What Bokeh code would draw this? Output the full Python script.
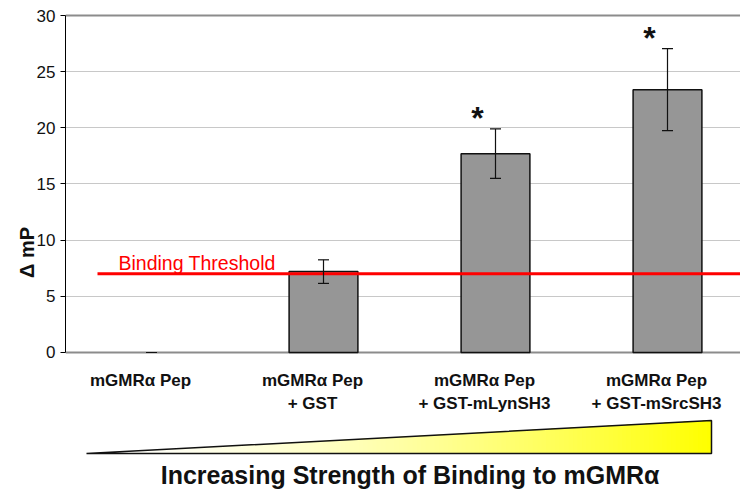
import math
from bokeh.plotting import figure
from bokeh.models import (ColumnDataSource, Range1d, FixedTicker, Grid, Whisker,
                          TeeHead)
from bokeh.core.properties import value
from bokeh.embed import file_html
from bokeh.resources import INLINE

# ---------------- data ----------------
categories = ["mGMR\u03b1 Pep",
              "mGMR\u03b1 Pep\n+ GST",
              "mGMR\u03b1 Pep\n+ GST-mLynSH3",
              "mGMR\u03b1 Pep\n+ GST-mSrcSH3"]
delta_mp = [0.0, 7.2, 17.7, 23.4]
delta_err = [0.0, 1.05, 2.2, 3.65]
significant = [False, False, True, True]
threshold = 7.0
y_ticks = [0, 5, 10, 15, 20, 25, 30]
y_label = "\u0394 mP"
threshold_label = "Binding Threshold"
x_title = "Increasing  Strength of Binding to mGMR\u03b1"

# ---------------- layout ----------------
FONT = "Liberation Sans"
W, H = 740, 491
PX_PER_CAT = 172.0
PX_PER_UNIT = 11.233
FRAME_LEFT = 65
FRAME_TOP = 13
Y30_PX = 15


def fx(px):
    return -0.5 + (px - FRAME_LEFT) / PX_PER_CAT


def fy(py):
    return 30 - (py - Y30_PX) / PX_PER_UNIT


x_start = -0.5
x_end = fx(W)
y_top = fy(FRAME_TOP)
y_bottom = fy(H)

p = figure(width=W, height=H, output_backend="svg", toolbar_location=None,
           x_range=Range1d(x_start, x_end), y_range=Range1d(y_bottom, y_top),
           x_axis_location=None, min_border_left=FRAME_LEFT,
           min_border_top=FRAME_TOP, min_border_bottom=0,
           min_border_right=0, background_fill_color="white",
           border_fill_color="white", outline_line_color=None)

for g in p.grid:
    if g.dimension == 0:
        g.visible = False

# y axis
yax = p.yaxis[0]
yax.bounds = (0, 30)
yax.ticker = FixedTicker(ticks=y_ticks)
yax.major_tick_out = 5
yax.major_tick_in = 0
yax.minor_tick_out = 0
yax.minor_tick_in = 0
yax.axis_line_color = "black"
yax.axis_line_width = 1
yax.major_tick_line_color = "black"
yax.major_label_text_font = FONT
yax.major_label_text_font_size = "17px"
yax.major_label_text_color = "#111111"
yax.major_label_standoff = 5
yax.axis_label = y_label
yax.axis_label_text_font = FONT
yax.axis_label_text_font_style = "bold"
yax.axis_label_text_font_size = "20px"
yax.axis_label_text_color = "#111111"
yax.axis_label_standoff = -4

# grid
ygrid = [g for g in p.grid if g.dimension == 1][0]
ygrid.ticker = FixedTicker(ticks=[t for t in y_ticks if 0 < t < 30])
ygrid.grid_line_color = "#c8c8c8"
ygrid.grid_line_width = 1
p.add_layout(Grid(dimension=1, ticker=FixedTicker(ticks=[y_ticks[0], y_ticks[-1]]),
                  grid_line_color="#8c8c8c", grid_line_width=2))

# bars
idx = list(range(len(categories)))
src = ColumnDataSource(dict(
    x=idx, top=delta_mp,
    upper=[v + e for v, e in zip(delta_mp, delta_err)],
    lower=[v - e for v, e in zip(delta_mp, delta_err)],
    edge=[0.0 if v == 0 else 1.0 for v in delta_mp],
    star=["*" if s else "" for s in significant],
    label=categories,
))
p.vbar(x="x", top="top", bottom=0, width=0.40, source=src,
       fill_color="#969696", line_color="#111111", line_width=1.5,
       line_alpha="edge")

# threshold line
p.line(x=[fx(97), x_end], y=[threshold, threshold], line_color="#ff0000",
       line_width=3)
p.text(x=[fx(118)], y=[threshold], text=[threshold_label], text_color="#ff0000",
       text_font=value(FONT), text_font_size="19.5px", text_baseline="alphabetic",
       text_align="left", y_offset=-11)

# error bars
p.add_layout(Whisker(base="x", upper="upper", lower="lower", source=src,
                     level="overlay",
                     line_color="#111111", line_width=1.2,
                     upper_head=TeeHead(size=11, line_color="#111111", line_width=1.2),
                     lower_head=TeeHead(size=11, line_color="#111111", line_width=1.2)))

# significance stars
p.text(x="x", y="upper", text="star", source=src, text_font=value(FONT),
       text_font_style="bold", text_font_size="32px", text_align="center",
       text_baseline="alphabetic", x_offset=-18, y_offset=-11, text_color="#111111")

# category labels
p.text(x="x", y=0, text="label", source=src, text_font=value(FONT),
       text_font_style="bold", text_font_size="17px", text_align="center",
       text_baseline="top", x_offset=-11, y_offset=19, text_color="#111111",
       text_line_height=1.2)

# gradient wedge
xl, xr = fx(86), fx(711)
yb, ytr = fy(453), fy(420)
N = 140
for i in range(N):
    t = i / (N - 1)
    xi = xl + (xr - xl) * i / N
    yi = yb + (ytr - yb) * (xi - xl) / (xr - xl)
    b = int(round(255 * (1 - t ** 1.5)))
    p.patch(x=[xi, xr, xr, xi], y=[yb, yb, ytr, yi],
            fill_color="#ffff%02x" % b, line_color=None)
p.patch(x=[xl, xr, xr], y=[yb, yb, ytr], fill_alpha=0, line_color="#111111",
        line_width=1.5)

# x title
p.text(x=[fx(413)], y=[fy(474)], text=[x_title], text_font=value(FONT),
       text_font_style="bold", text_font_size="25px", text_align="center",
       text_baseline="middle", text_color="#111111")

open("out.html", "w").write(file_html(p, INLINE))
